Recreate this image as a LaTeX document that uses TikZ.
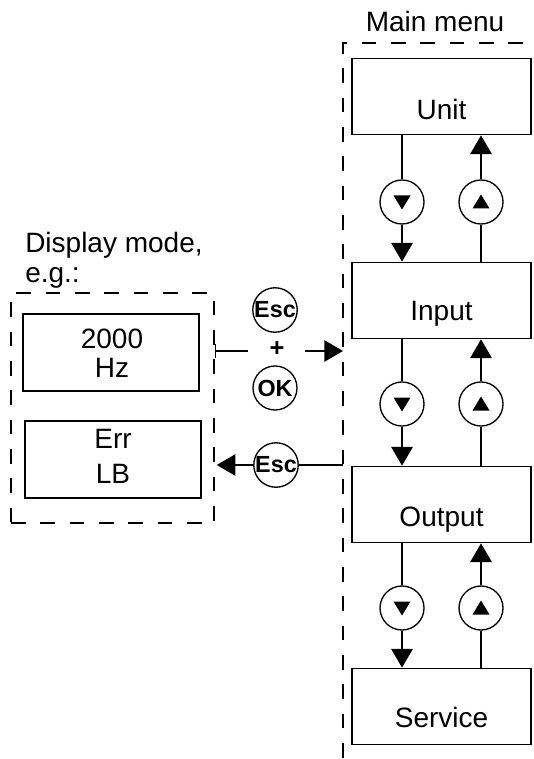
\documentclass[tikz,border=0pt]{standalone}
\usepackage{fontspec}
\setmainfont{Liberation Sans}
\usetikzlibrary{arrows.meta}
\begin{document}
\begin{tikzpicture}[x=0.75pt,y=-0.75pt,
  mbox/.style={draw, line width=1.3pt, minimum width=134.25pt, minimum height=57pt, inner sep=0pt},
  dispbox/.style={draw, line width=1.3pt, minimum width=132pt, minimum height=57.75pt, inner sep=0pt},
  lbl/.style={inner sep=0pt, font=\fontsize{21}{25}\selectfont},
  btn/.style={draw, circle, line width=1pt, minimum size=33pt, inner sep=0pt, font=\fontsize{17.5}{20}\selectfont\bfseries},
  ln/.style={line width=1.2pt},
  arr/.style={line width=1.2pt, -{Triangle[width=16pt,length=14pt]}},
  dsh/.style={line width=1.1pt, dash pattern=on 11pt off 11pt}]
\useasboundingbox (0,0) rectangle (534,759);

% main menu
\node[lbl, anchor=base] (mmtitle) at (435,32) {Main menu};
\coordinate (mmtl) at (343,43);
\coordinate (mmtr) at (523,43);
\coordinate (mmbl) at (343,759);
\draw[dsh] (mmtr) -- (mmtl) -- (mmbl);

\node[mbox] (unit) at (441.5,96.5) {};
\node[lbl, anchor=base] (unitl) at (441.5,120) {Unit};
\node[mbox] (input) at (441.5,300.5) {};
\node[lbl, anchor=base] (inputl) at (441.5,320) {Input};
\node[mbox] (output) at (441.5,504.5) {};
\node[lbl, anchor=base] (outputl) at (441.5,526) {Output};
\node[mbox] (service) at (441.5,706.5) {};
\node[lbl, anchor=base] (servicel) at (441.5,727) {Service};

% up/down buttons
\foreach \n/\y in {1/202, 2/404, 3/608} {
  \node[btn] (d\n) at (402,\y) {};
  \node[btn] (u\n) at (481,\y) {};
  \fill ([shift={(-8.5,-6.5)}]d\n.center) -- ([shift={(8.5,-6.5)}]d\n.center) -- ([shift={(0,7.5)}]d\n.center) -- cycle;
  \fill ([shift={(-8.5,6.5)}]u\n.center) -- ([shift={(8.5,6.5)}]u\n.center) -- ([shift={(0,-7.5)}]u\n.center) -- cycle;
}
\draw[ln] (unit.south -| d1.north) -- (d1.north);
\draw[arr] (d1.south) -- (input.north -| d1.south);
\draw[ln] (input.north -| u1.south) -- (u1.south);
\draw[arr] (u1.north) -- (unit.south -| u1.north);

\draw[ln] (input.south -| d2.north) -- (d2.north);
\draw[arr] (d2.south) -- (output.north -| d2.south);
\draw[ln] (output.north -| u2.south) -- (u2.south);
\draw[arr] (u2.north) -- (input.south -| u2.north);

\draw[ln] (output.south -| d3.north) -- (d3.north);
\draw[arr] (d3.south) -- (service.north -| d3.south);
\draw[ln] (service.north -| u3.south) -- (u3.south);
\draw[arr] (u3.north) -- (output.south -| u3.north);

% display mode
\node[lbl, anchor=base west] (dm1) at (25,252) {Display mode,};
\node[lbl, anchor=base west] (dm2) at (25,282) {e.g.:};
\node[draw, dsh, minimum width=152.25pt, minimum height=172.5pt, inner sep=0pt] (disp) at (112.5,408) {};
\node[dispbox] (hz) at (111,352.5) {};
\node[lbl, anchor=base] (hz1) at (112,348) {2000};
\node[lbl, anchor=base] (hz2) at (112,377) {Hz};
\node[dispbox] (err) at (113,459.5) {};
\node[lbl, anchor=base] (err1) at (113,448) {Err};
\node[lbl, anchor=base] (err2) at (113,483) {LB};

% Esc + OK
\node[btn] (esc1) at (275,310) {Esc};
\node[btn] (ok) at (275,388) {OK};
\node[inner sep=0pt, font=\fontsize{19}{20}\selectfont\bfseries] (plus) at (277,349) {+};
\coordinate (p1) at (248,351);
\coordinate (p2) at (305,351);
\draw[ln, {Bar[width=11pt]}-] (disp.east |- p1) -- (p1);
\draw[arr] (p2) -- (mmtl |- p2);

\node[btn] (esc2) at (276,465) {Esc};
\draw[ln] (mmtl |- esc2) -- (esc2.east);
\draw[arr] (esc2.west) -- ([xshift=1.5pt]disp.east |- esc2);
\end{tikzpicture}
\end{document}
